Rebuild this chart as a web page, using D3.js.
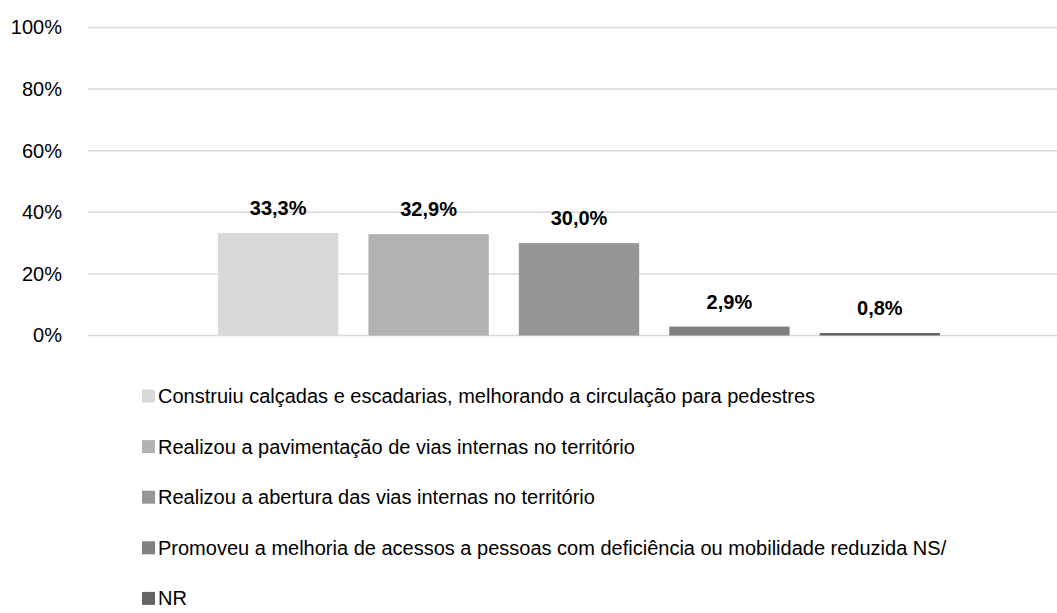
<!DOCTYPE html>
<html><head><meta charset="utf-8">
<script src="https://cdn.jsdelivr.net/npm/d3@7"></script>
<style>
html,body{margin:0;padding:0;background:#fff;}
svg text{font-family:"Liberation Sans",Arial,sans-serif;}
</style></head>
<body><svg id="c" width="1057" height="613"></svg>
<script>
const seriesNames = [
  "Construiu calçadas e escadarias, melhorando a circulação para pedestres",
  "Realizou a pavimentação de vias internas no território",
  "Realizou a abertura das vias internas no território",
  "Promoveu a melhoria de acessos a pessoas com deficiência ou mobilidade reduzida NS/",
  "NR"
];
const values = [33.3, 32.9, 30.0, 2.9, 0.8];
const colors = ["#d9d9d9", "#b2b2b2", "#969696", "#808080", "#646464"];
const yTicks = [0, 20, 40, 60, 80, 100];

(function () {
const svg = d3.select("#c");
const mLeft = 88, mRight = 1070, mTop = 27.5, mBottom = 335.5;

const y = d3.scaleLinear().domain([0, 100]).range([mBottom, mTop]);
const x = d3.scaleBand().domain(seriesNames).range([218, 940]).paddingInner(0.2).paddingOuter(0);

// gridlines
svg.append("g").selectAll("line").data(yTicks).join("line")
  .attr("x1", mLeft).attr("x2", mRight)
  .attr("y1", d => y(d)).attr("y2", d => y(d))
  .attr("stroke", "#d9d9d9").attr("stroke-width", 1.5);

// y axis labels
const yAxis = d3.axisLeft(y).tickValues(yTicks).tickFormat(d => d + "%").tickSize(0).tickPadding(0);
const ga = svg.append("g").attr("transform", "translate(62,0)").call(yAxis);
ga.select(".domain").remove();
ga.selectAll("text").attr("font-size", 20).attr("fill", "#000")
  .style("font-family", '"Liberation Sans",Arial,sans-serif');

// bars
svg.append("g").selectAll("rect").data(values).join("rect")
  .attr("x", (d, i) => x(seriesNames[i]))
  .attr("width", x.bandwidth())
  .attr("y", d => y(d))
  .attr("height", d => y(0) - y(d))
  .attr("fill", (d, i) => colors[i]);

// labels
svg.append("g").selectAll("text").data(values).join("text")
  .attr("x", (d, i) => x(seriesNames[i]) + x.bandwidth() / 2)
  .attr("y", d => y(d) - 18)
  .attr("text-anchor", "middle")
  .attr("font-size", 20).attr("font-weight", "bold").attr("fill", "#000")
  .text(d => d.toFixed(1).replace(".", ",") + "%");

// legend
const lg = svg.append("g").selectAll("g").data(seriesNames).join("g")
  .attr("transform", (d, i) => `translate(142,${396 + i * 50.6})`);
lg.append("rect").attr("x", 0).attr("y", -6.5).attr("width", 13).attr("height", 13)
  .attr("fill", (d, i) => colors[i]);
lg.append("text").attr("x", 16).attr("y", 0).attr("dy", "0.35em")
  .attr("font-size", 20).attr("fill", "#000").text(d => d);
})();
</script></body></html>
